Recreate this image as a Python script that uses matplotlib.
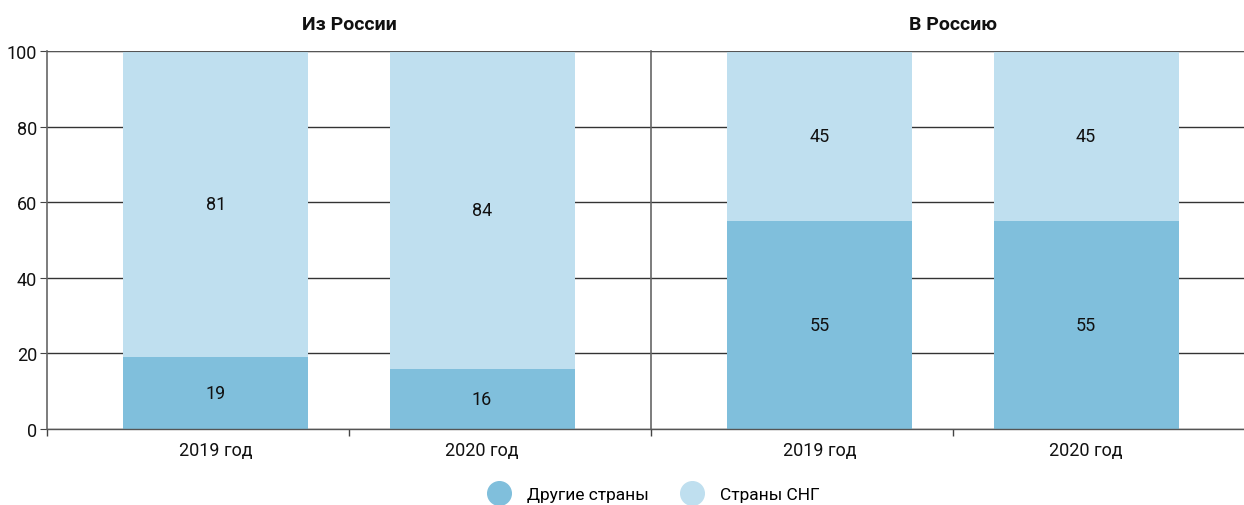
import matplotlib
matplotlib.use("Agg")
import matplotlib.pyplot as plt
from matplotlib.lines import Line2D

plt.rcParams['font.family'] = ['Roboto', 'DejaVu Sans']

panels = ["Из России", "В Россию"]
years = ["2019 год", "2020 год"]
other = [[19, 16], [55, 55]]      # Другие страны
cis = [[81, 84], [45, 45]]        # Страны СНГ
series_names = ["Другие страны", "Страны СНГ"]
colors = ["#80BFDC", "#BFDFEF"]

W, H = 1244, 506
fig = plt.figure(figsize=(W / 100, H / 100), dpi=100)

left_px = [47, 651]
ax_w = 604
bottom_px = 430
top_px = 52

xl = (-0.635, 1.635)
for i, name in enumerate(panels):
    ax = fig.add_axes([left_px[i] / W, (H - bottom_px) / H, ax_w / W, (bottom_px - top_px) / H])
    x = list(range(len(years)))
    ax.bar(x, other[i], width=0.695, color=colors[0], zorder=2)
    ax.bar(x, cis[i], width=0.695, bottom=other[i], color=colors[1], zorder=2)
    for xi, o, c in zip(x, other[i], cis[i]):
        ax.text(xi, o / 2, str(o), ha='center', va='center', fontsize=13, color='#111111', zorder=3)
        ax.text(xi, o + c / 2, str(c), ha='center', va='center', fontsize=13, color='#111111', zorder=3)
    ax.set_xlim(*xl)
    ax.set_ylim(0, 100)
    ax.set_yticks([0, 20, 40, 60, 80, 100])
    ax.yaxis.grid(True, color='#333333', linewidth=1, zorder=1)
    ax.set_axisbelow(True)
    ax.set_xticks(x)
    ax.set_xticklabels(years, fontsize=13, color='#111111')
    ax.tick_params(axis='x', which='major', length=0, pad=9)
    ax.set_xticks([xl[0], 0.5], minor=True)
    ax.tick_params(axis='x', which='minor', length=5, width=1, color='#444444')
    for s in ['top', 'right']:
        ax.spines[s].set_visible(False)
    ax.spines['bottom'].set_color('#555555')
    ax.spines['bottom'].set_linewidth(1)
    ax.spines['left'].set_color('#666666')
    ax.spines['left'].set_linewidth(1.2)
    ax.axhline(100, color='#555555', linewidth=1.5, zorder=4)
    if i == 0:
        ax.tick_params(axis='y', labelsize=13, length=5, color='#444444', labelcolor='#111111', pad=2)
    else:
        ax.tick_params(axis='y', left=False, labelleft=False)
    ax.set_title(name, fontsize=14, fontweight='bold', pad=16, color='#111111')

handles = [Line2D([], [], marker='o', linestyle='none', markersize=17, markerfacecolor=c,
                  markeredgecolor=c) for c in colors]
fig.legend(handles, series_names, loc='center', bbox_to_anchor=(0.523, 11 / H), ncol=2,
           frameon=False, fontsize=12.5, handletextpad=0.6, columnspacing=1.5)

fig.savefig("out.png", dpi=100)
